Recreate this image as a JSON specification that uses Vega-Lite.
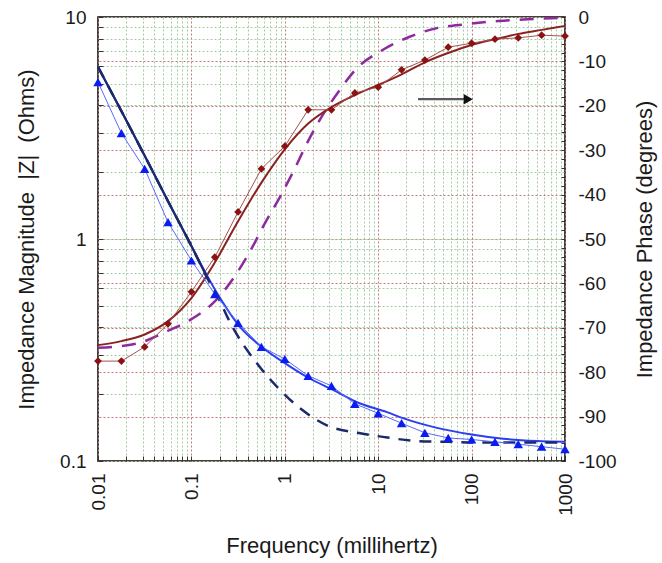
{
  "$schema": "https://vega.github.io/schema/vega-lite/v6.json",
  "width": 467,
  "height": 444,
  "autosize": {"type": "none"},
  "padding": {"left": 98, "top": 17, "right": 97, "bottom": 102},
  "background": "white",
  "config": {
    "view": {"stroke": "#000000", "strokeWidth": 1.5},
    "font": "Liberation Sans",
    "axis": {
      "labelFont": "Liberation Sans",
      "titleFont": "Liberation Sans",
      "labelFontSize": 19,
      "titleFontSize": 22,
      "titleFontWeight": "normal",
      "labelColor": "#1a1a1a",
      "titleColor": "#1a1a1a",
      "domain": false,
      "tickColor": "#333333",
      "tickWidth": 1
    }
  },
  "datasets": {
    "magpts": [
      {"f": 0.01, "z": 5.09}, {"f": 0.0178, "z": 3.0}, {"f": 0.0316, "z": 2.07}, {"f": 0.0562, "z": 1.19},
      {"f": 0.1, "z": 0.8}, {"f": 0.178, "z": 0.565}, {"f": 0.316, "z": 0.419}, {"f": 0.562, "z": 0.327},
      {"f": 1, "z": 0.288}, {"f": 1.78, "z": 0.242}, {"f": 3.16, "z": 0.218}, {"f": 5.62, "z": 0.181},
      {"f": 10, "z": 0.164}, {"f": 17.8, "z": 0.148}, {"f": 31.6, "z": 0.134}, {"f": 56.2, "z": 0.127},
      {"f": 100, "z": 0.125}, {"f": 178, "z": 0.122}, {"f": 316, "z": 0.119}, {"f": 562, "z": 0.116},
      {"f": 1000, "z": 0.113}
    ],
    "magfit": [
      {"f": 0.01, "z": 5.96}, {"f": 0.0178, "z": 3.77}, {"f": 0.0316, "z": 2.37}, {"f": 0.0562, "z": 1.48},
      {"f": 0.1, "z": 0.93}, {"f": 0.188, "z": 0.571}, {"f": 0.331, "z": 0.402}, {"f": 0.585, "z": 0.323},
      {"f": 1, "z": 0.276}, {"f": 1.73, "z": 0.239}, {"f": 3.28, "z": 0.209}, {"f": 5.93, "z": 0.184},
      {"f": 12.4, "z": 0.166}, {"f": 18.4, "z": 0.156}, {"f": 42.6, "z": 0.141}, {"f": 96, "z": 0.132},
      {"f": 217, "z": 0.126}, {"f": 502, "z": 0.123}, {"f": 1000, "z": 0.122}
    ],
    "magideal": [
      {"f": 0.01, "z": 5.96}, {"f": 0.0178, "z": 3.77}, {"f": 0.0316, "z": 2.37}, {"f": 0.0562, "z": 1.48},
      {"f": 0.1, "z": 0.93}, {"f": 0.15, "z": 0.66}, {"f": 0.2, "z": 0.53}, {"f": 0.246, "z": 0.44},
      {"f": 0.54, "z": 0.265}, {"f": 0.89, "z": 0.209}, {"f": 1.53, "z": 0.17}, {"f": 2.9, "z": 0.144},
      {"f": 6.0, "z": 0.134}, {"f": 11.9, "z": 0.128}, {"f": 26, "z": 0.123}, {"f": 56, "z": 0.122},
      {"f": 115, "z": 0.121}, {"f": 1000, "z": 0.121}
    ],
    "phpts": [
      {"f": 0.01, "p": -77.5}, {"f": 0.0178, "p": -77.5}, {"f": 0.0316, "p": -74.3}, {"f": 0.0562, "p": -69.1},
      {"f": 0.1, "p": -61.9}, {"f": 0.178, "p": -54.1}, {"f": 0.316, "p": -43.9}, {"f": 0.562, "p": -34.2},
      {"f": 1, "p": -29.1}, {"f": 1.78, "p": -20.9}, {"f": 3.16, "p": -20.9}, {"f": 5.62, "p": -17.1},
      {"f": 10, "p": -15.8}, {"f": 17.8, "p": -11.9}, {"f": 31.6, "p": -9.7}, {"f": 56.2, "p": -6.8},
      {"f": 100, "p": -5.9}, {"f": 178, "p": -5.0}, {"f": 316, "p": -4.7}, {"f": 562, "p": -4.1},
      {"f": 1000, "p": -4.3}
    ],
    "phfit": [
      {"f": 0.01, "p": -73.9}, {"f": 0.0178, "p": -73.0}, {"f": 0.0316, "p": -71.5}, {"f": 0.0562, "p": -68.5},
      {"f": 0.1, "p": -63.3}, {"f": 0.178, "p": -55.3}, {"f": 0.316, "p": -46.0}, {"f": 0.562, "p": -37.3},
      {"f": 1, "p": -29.8}, {"f": 1.78, "p": -24.0}, {"f": 3.16, "p": -20.3}, {"f": 5.62, "p": -17.6},
      {"f": 10, "p": -15.3}, {"f": 17.8, "p": -12.9}, {"f": 31.6, "p": -10.2}, {"f": 56.2, "p": -8.1},
      {"f": 100, "p": -6.3}, {"f": 178, "p": -5.0}, {"f": 316, "p": -3.8}, {"f": 562, "p": -2.9},
      {"f": 1000, "p": -2.0}
    ],
    "phideal": [
      {"f": 0.01, "p": -74.5}, {"f": 0.0255, "p": -73.6}, {"f": 0.0521, "p": -71.0}, {"f": 0.101, "p": -68.0},
      {"f": 0.179, "p": -64.0}, {"f": 0.293, "p": -58.3}, {"f": 0.445, "p": -52.0}, {"f": 0.599, "p": -46.8},
      {"f": 0.889, "p": -40.5}, {"f": 1.22, "p": -35.0}, {"f": 1.77, "p": -28.0}, {"f": 2.44, "p": -22.7},
      {"f": 3.71, "p": -17.0}, {"f": 5.93, "p": -11.5}, {"f": 11.0, "p": -7.5}, {"f": 21.4, "p": -4.5},
      {"f": 42.6, "p": -2.5}, {"f": 89, "p": -1.6}, {"f": 192, "p": -0.9}, {"f": 402, "p": -0.5},
      {"f": 1000, "p": -0.2}
    ],
    "arrow": [{"f": 26.7, "f2": 84, "p": -18.5}],
    "arrowhead": [{"f": 92, "p": -18.5}]
  },
  "encoding": {
    "x": {
      "field": "f",
      "type": "quantitative",
      "scale": {"type": "log", "domain": [0.01, 1000], "nice": false},
      "axis": {
        "title": "Frequency (millihertz)",
        "values": [0.01,0.02,0.03,0.04,0.05,0.06,0.07,0.08,0.09,0.1,0.2,0.3,0.4,0.5,0.6,0.7,0.8,0.9,1,2,3,4,5,6,7,8,9,10,20,30,40,50,60,70,80,90,100,200,300,400,500,600,700,800,900,1000],
        "labelExpr": "indexof([0.01,0.1,1,10,100,1000], datum.value) >= 0 ? format(datum.value, '~g') : ''",
        "labelAngle": 270,
        "labelAlign": "right",
        "labelBaseline": "middle",
        "labelOverlap": false,
        "labelFlush": false,
        "labelPadding": 17,
        "tickSize": -5,
        "grid": true,
        "gridColor": {"condition": {"test": "indexof([0.01,0.1,1,10,100,1000], datum.value) >= 0", "value": "#c07878"}, "value": "#a3cba3"},
        "gridDash": [2, 2],
        "gridWidth": 1,
        "titlePadding": 20
      }
    }
  },
  "layer": [
    {
      "encoding": {
        "y": {
          "field": "p",
          "type": "quantitative",
          "scale": {"domain": [-100, 0], "nice": false},
          "axis": {
            "orient": "right",
            "title": "Impedance Phase (degrees)",
            "titleAngle": 270,
            "values": [-100,-98,-96,-94,-92,-90,-88,-86,-84,-82,-80,-78,-76,-74,-72,-70,-68,-66,-64,-62,-60,-58,-56,-54,-52,-50,-48,-46,-44,-42,-40,-38,-36,-34,-32,-30,-28,-26,-24,-22,-20,-18,-16,-14,-12,-10,-8,-6,-4,-2,0],
            "labelExpr": "datum.value % 10 == 0 ? '' + datum.value : ''",
            "labelOverlap": false,
            "labelFlush": false,
            "labelPadding": 17,
            "tickSize": -4,
            "grid": true,
            "gridColor": "#c07878",
            "gridOpacity": {"condition": {"test": "datum.value % 10 == 0", "value": 1}, "value": 0},
            "gridDash": [2, 2],
            "gridWidth": 1,
            "titlePadding": 40
          }
        }
      },
      "layer": [
        {"data": {"name": "phideal"}, "mark": {"type": "line", "color": "#8e2a9e", "strokeWidth": 2.5, "strokeDash": [14, 10], "interpolate": "monotone"}},
        {"data": {"name": "phfit"}, "mark": {"type": "line", "color": "#8a2222", "strokeWidth": 2, "interpolate": "monotone"}},
        {"data": {"name": "phpts"}, "mark": {"type": "line", "color": "#a85050", "strokeWidth": 1}},
        {"data": {"name": "phpts"}, "mark": {"type": "point", "shape": "diamond", "filled": true, "color": "#8b1212", "size": 60, "opacity": 1}},
        {"data": {"name": "arrow"}, "mark": {"type": "rule", "color": "#5a5a5a", "strokeWidth": 2.2}, "encoding": {"x2": {"field": "f2"}}},
        {"data": {"name": "arrowhead"}, "mark": {"type": "point", "shape": "triangle-right", "filled": true, "color": "#111111", "size": 110, "opacity": 1}}
      ]
    },
    {
      "encoding": {
        "y": {
          "field": "z",
          "type": "quantitative",
          "scale": {"type": "log", "domain": [0.1, 10], "nice": false},
          "axis": {
            "orient": "left",
            "title": "Impedance Magnitude\u00a0 |Z|\u00a0 (Ohms)",
            "values": [0.1,0.2,0.3,0.4,0.5,0.6,0.7,0.8,0.9,1,2,3,4,5,6,7,8,9,10],
            "labelExpr": "indexof([0.1,1,10], datum.value) >= 0 ? format(datum.value, '~g') : ''",
            "labelOverlap": false,
            "labelFlush": false,
            "labelPadding": 17,
            "tickSize": -5,
            "grid": true,
            "gridColor": "#a3cba3",
            "gridDash": [2, 2],
            "gridWidth": 1,
            "titlePadding": 21
          }
        }
      },
      "layer": [
        {"data": {"name": "magfit"}, "mark": {"type": "line", "color": "#2b3ff0", "strokeWidth": 2, "interpolate": "monotone"}},
        {"data": {"name": "magideal"}, "mark": {"type": "line", "color": "#1b2a6b", "strokeWidth": 2.5, "strokeDash": [12, 9], "interpolate": "monotone"}},
        {"data": {"name": "magideal"}, "transform": [{"filter": "datum.f <= 0.15"}], "mark": {"type": "line", "color": "#1b2a6b", "strokeWidth": 2.2, "interpolate": "monotone"}},
        {"data": {"name": "magpts"}, "mark": {"type": "line", "color": "#5a6aff", "strokeWidth": 1}},
        {"data": {"name": "magpts"}, "mark": {"type": "point", "shape": "triangle-up", "filled": true, "color": "#0b1cf0", "size": 90, "opacity": 1}}
      ]
    }
  ],
  "resolve": {"scale": {"y": "independent"}, "axis": {"y": "independent"}}
}
